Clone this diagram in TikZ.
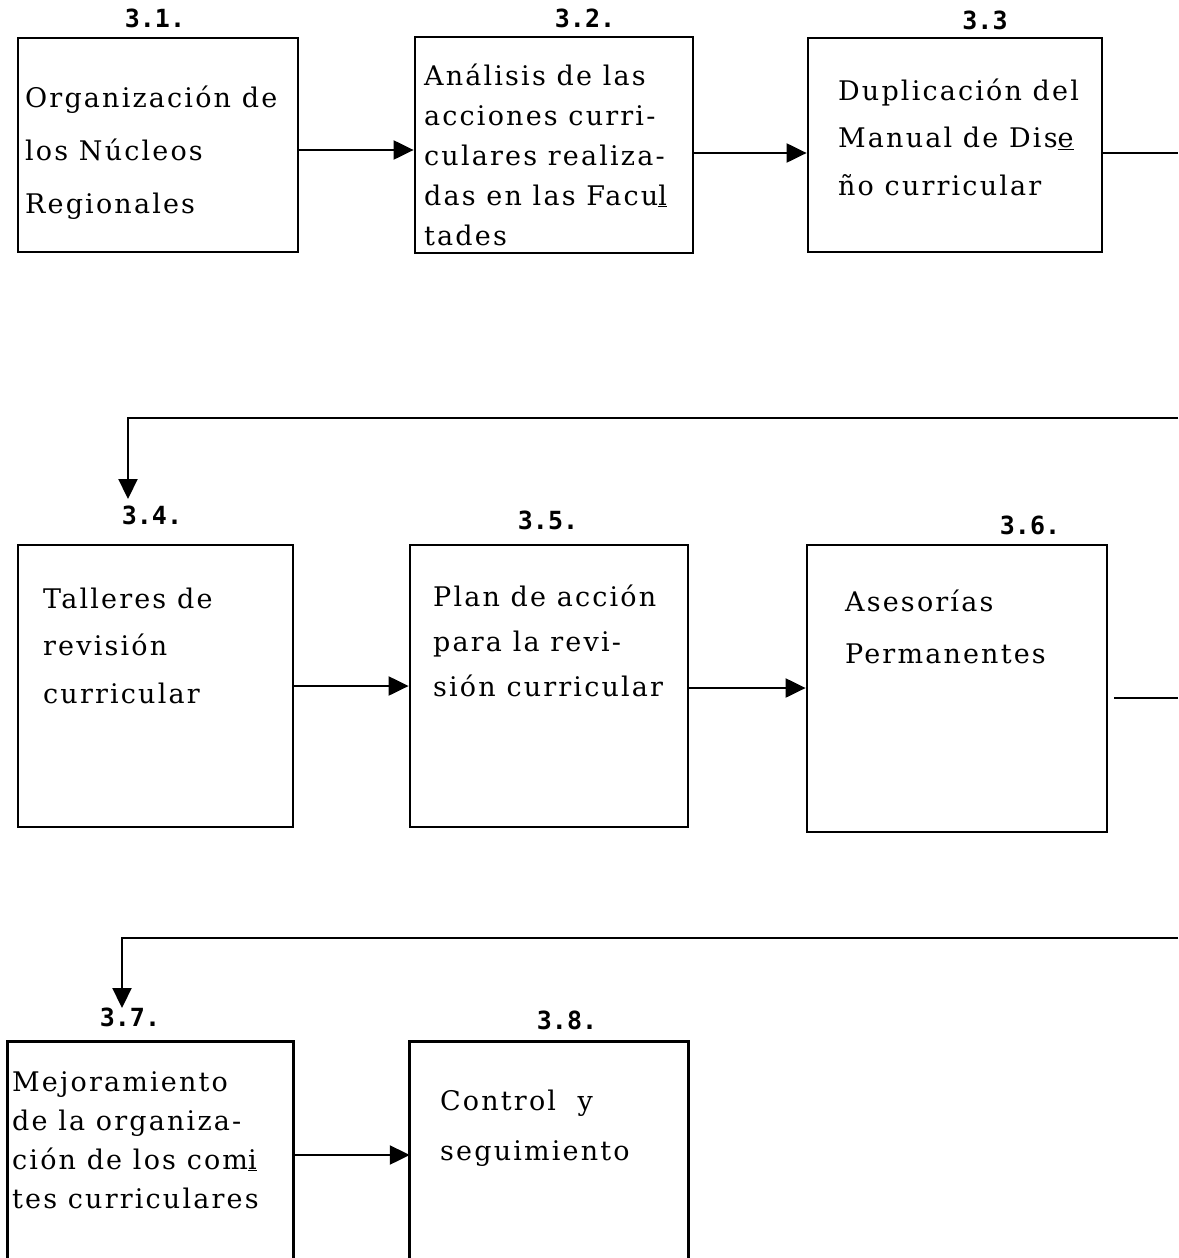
\documentclass[tikz,border=0pt]{standalone}
\usepackage{fontspec}
\setmainfont{DejaVu Serif}[LetterSpace=8]
\newfontfamily\labfont{DejaVu Sans Mono}
\usetikzlibrary{arrows.meta}
\tikzset{
  box/.style={draw, line width=2.8pt, inner sep=0pt, rectangle},
  openbox/.style={inner sep=0pt, rectangle},
  boxtext/.style={anchor=north west, inner sep=0pt, align=left, text=black},
  numlab/.style={inner sep=0pt, font=\labfont\bfseries\fontsize{25}{25}\selectfont},
  conn/.style={line width=2.2pt},
  arr/.style={line width=2.2pt, -{Triangle[length=20pt,width=19pt]}},
}
\newcommand{\fs}[1]{\fontsize{27}{#1}\selectfont}
\newcommand{\topstrut}{\rule{0pt}{30pt}}
\begin{document}
\begin{tikzpicture}[x=1pt,y=-1pt]
\fill[white] (0,0) rectangle (1178,1258);
\useasboundingbox (0,0) rectangle (1178,1258);

% boxes
\node[box, minimum width=280pt, minimum height=214pt] (b1) at (158,145) {};
\node[box, minimum width=278pt, minimum height=216pt] (b2) at (554,145) {};
\node[box, minimum width=294pt, minimum height=214pt] (b3) at (955,145) {};
\node[box, minimum width=275pt, minimum height=282pt] (b4) at (155.5,686) {};
\node[box, minimum width=278pt, minimum height=282pt] (b5) at (549,686) {};
\node[box, minimum width=300pt, minimum height=287pt] (b6) at (957,688.5) {};
\node[openbox, minimum width=285pt, minimum height=216pt] (b7) at (150.5,1150) {};
\node[openbox, minimum width=278pt, minimum height=216pt] (b8) at (549,1150) {};
\draw[line width=2.8pt] (b7.south west) -- (b7.north west) -- (b7.north east) -- (b7.south east);
\draw[line width=2.8pt] (b8.south west) -- (b8.north west) -- (b8.north east) -- (b8.south east);

% number labels
\node[numlab] (l1) at (155,18) {3.1.};
\node[numlab] (l2) at (585,18) {3.2.};
\node[numlab] (l3) at (985,20) {3.3};
\node[numlab] (l4) at (152,515) {3.4.};
\node[numlab] (l5) at (548,520) {3.5.};
\node[numlab] (l6) at (1030,525) {3.6.};
\node[numlab] (l7) at (130,1017) {3.7.};
\node[numlab] (l8) at (567,1020) {3.8.};

% texts (top = first baseline - 30)
\node[boxtext, font=\fs{53}] (t1) at (25,77) {\topstrut Organización de\\los Núcleos\\Regionales};
\node[boxtext, font=\fs{40}] (t2) at (424,55) {\topstrut Análisis de las\\acciones curri-\\culares realiza-\\das en las Facu\underline{l}\\tades};
\node[boxtext, font=\fs{47.5}] (t3) at (838,70) {\topstrut Duplicación del\\Manual de Dis\underline{e}\\ño curricular};
\node[boxtext, font=\fs{47.5}] (t4) at (43,578) {\topstrut Talleres de\\revisión\\curricular};
\node[boxtext, font=\fs{45}] (t5) at (433,576) {\topstrut Plan de acción\\para la revi-\\sión curricular};
\node[boxtext, font=\fs{52}] (t6) at (845,581) {\topstrut Asesorías\\Permanentes};
\node[boxtext, font=\fs{39}] (t7) at (12,1061) {\topstrut Mejoramiento\\de la organiza-\\ción de los com\underline{i}\\tes curriculares};
\node[boxtext, font=\fs{50}] (t8) at (440,1080) {\topstrut Control\ \ y\\seguimiento};

% connectors
\draw[arr] ([yshift=-5pt]b1.east) -- ([yshift=-5pt]b1.east -| b2.west);
\draw[arr] ([yshift=-8pt]b2.east) -- ([yshift=-8pt]b2.east -| b3.west);
\coordinate (r1) at (1178,153);
\draw[conn] ([yshift=-8pt]b3.east) -- (r1);
\coordinate (r2) at (1178,418);
\coordinate (d4) at (128,499);
\draw[arr] (r2) -- (128,418) -- (d4);

\draw[arr] (b4.east) -- (b4.east -| b5.west);
\draw[arr] ([yshift=-2pt]b5.east) -- ([yshift=-2pt]b5.east -| b6.west);
\coordinate (r3) at (1178,698);
\draw[conn] ([xshift=6pt,yshift=-9.5pt]b6.east) -- (r3);
\coordinate (r4) at (1178,938);
\coordinate (d7) at (122,1008);
\draw[arr] (r4) -- (122,938) -- (d7);

\draw[arr] ([yshift=-5pt]b7.east) -- ([yshift=-5pt]b7.east -| b8.west);
\end{tikzpicture}
\end{document}
